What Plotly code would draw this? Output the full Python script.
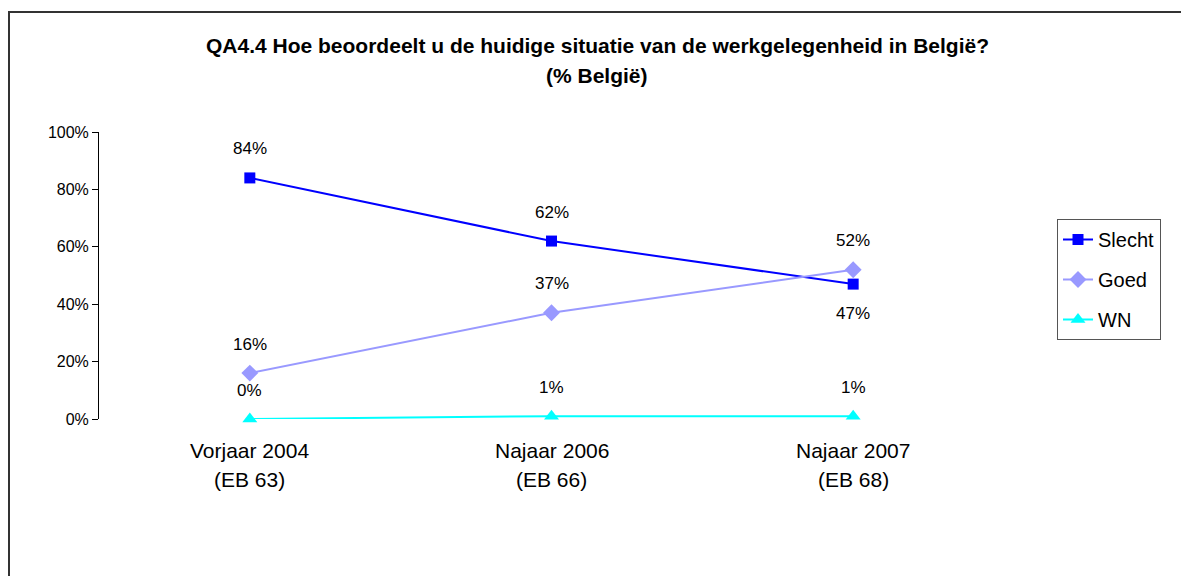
import plotly.graph_objects as go

categories = ["Vorjaar 2004", "Najaar 2006", "Najaar 2007"]
waves = ["(EB 63)", "(EB 66)", "(EB 68)"]
slecht = [84, 62, 47]
goed = [16, 37, 52]
wn = [0, 1, 1]
y_ticks = [0, 20, 40, 60, 80, 100]
y_ticklabels = ["0%", "20%", "40%", "60%", "80%", "100%"]
title_lines = ["QA4.4 Hoe beoordeelt u de huidige situatie van de werkgelegenheid in België?",
               "(% België)"]

series = [
    ("Slecht", slecht, "#0000FF", "square", 11, ["above", "above", "below"]),
    ("Goed", goed, "#9999FF", "diamond", 13, ["above", "above", "above"]),
    ("WN", wn, "#00FFFF", "triangle-up", 13, ["above", "above", "above"]),
]

FONT = "Liberation Sans, Arial, sans-serif"
xs = list(range(len(categories)))

OFF = 8  # page body margin offset
W, H = 1189 - OFF, 576 - OFF
L, R, T, B = 99 - OFF, 1004 - OFF, 132 - OFF, 419 - OFF


def px_x(p):
    return (p - OFF - L) / (R - L)


def px_y(p):
    return (B - (p - OFF)) / (B - T)


fig = go.Figure()
annotations = []
for i, (name, vals, color, sym, size, pos) in enumerate(series):
    fig.add_trace(go.Scatter(
        x=xs, y=vals, name=name, mode="lines+markers",
        line=dict(color=color, width=2),
        marker=dict(symbol=sym, size=size, color=color),
        cliponaxis=False, legendgroup=f"g{i}",
    ))
    for x, v, p in zip(xs, vals, pos):
        annotations.append(dict(
            x=x, y=v, xref="x", yref="y", text=f"{v}%", showarrow=False,
            yshift=29 if p == "above" else -29,
            font=dict(family=FONT, size=17, color="black"),
            xanchor="center", yanchor="middle",
        ))

for x, c, w in zip(xs, categories, waves):
    annotations.append(dict(x=x, y=px_y(450), xref="x", yref="paper", text=c,
                            showarrow=False, yanchor="middle",
                            font=dict(family=FONT, size=21, color="black")))
    annotations.append(dict(x=x, y=px_y(479), xref="x", yref="paper", text=w,
                            showarrow=False, yanchor="middle",
                            font=dict(family=FONT, size=21, color="black")))

for line, py in zip(title_lines, [45, 75]):
    annotations.append(dict(x=px_x(597), y=px_y(py), xref="paper", yref="paper",
                            text=f"<b>{line}</b>", showarrow=False, yanchor="middle",
                            font=dict(family=FONT, size=21, color="black")))

fig.update_layout(
    width=W, height=H,
    margin=dict(l=L, r=W - R, t=T, b=H - B),
    paper_bgcolor="white", plot_bgcolor="white",
    showlegend=True,
    legend=dict(x=px_x(1057), y=px_y(219), xanchor="left", yanchor="top",
                bordercolor="#555555", borderwidth=1,
                font=dict(family=FONT, size=20, color="black"),
                tracegroupgap=11, traceorder="grouped", bgcolor="white"),
    xaxis=dict(range=[-0.5, 2.5], showticklabels=False, showgrid=False,
               zeroline=False, showline=False, ticks=""),
    yaxis=dict(range=[0, 100], tickvals=y_ticks, ticktext=y_ticklabels,
               showgrid=False, zeroline=False, showline=True, linecolor="black",
               linewidth=1, ticks="outside", ticklen=6, tickcolor="black",
               tickfont=dict(family=FONT, size=16, color="black")),
    annotations=annotations,
    shapes=[dict(type="rect", xref="paper", yref="paper",
                 x0=px_x(OFF + 1), x1=px_x(1300), y0=px_y(700), y1=px_y(12),
                 line=dict(color="#333333", width=2), layer="below")],
)

fig.write_html("out.html")
